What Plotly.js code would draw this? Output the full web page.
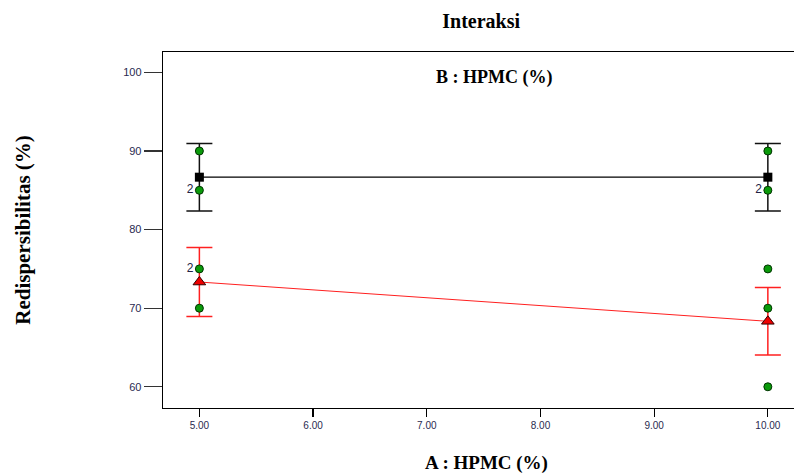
<!DOCTYPE html>
<html>
<head>
<meta charset="utf-8">
<script src="https://cdn.plot.ly/plotly-3.0.1.min.js"></script>
<style>html,body{margin:0;padding:0;background:#fff;overflow:hidden;}#chart{width:794px;height:473px;}</style>
</head>
<body>
<div id="chart"></div>
<script>
// Factor levels (A : HPMC %)
var xLevels = [5, 10];
// Predicted means and error bar half-widths
var highMean = [86.67, 86.67];
var highErr = [4.3, 4.3];
var lowMean = [73.33, 68.33];
var lowErr = [4.4, 4.3];
// Observed design points
var obsX = [5, 5, 5, 5, 10, 10, 10, 10, 10];
var obsY = [90, 85, 75, 70, 90, 85, 75, 70, 60];
var obsLabel = ['', '2', '2', '', '', '2', '', '', ''];
// Ticks
var xTicks = [5, 6, 7, 8, 9, 10];
var xTickText = ['5.00', '6.00', '7.00', '8.00', '9.00', '10.00'];
var yTicks = [60, 70, 80, 90, 100];

var serif = 'Liberation Serif, Times New Roman, serif';
var sans = 'Liberation Sans, Arial, sans-serif';

var traces = [
  {
    x: xLevels, y: lowMean, type: 'scatter', mode: 'lines+markers',
    line: {color: '#ff2020', width: 1},
    marker: {symbol: 'triangle-up', size: 11, color: '#ee0000', line: {color: '#330000', width: 1}},
    error_y: {type: 'data', array: lowErr, visible: true, color: '#ff2020', thickness: 1.5, width: 13},
    hoverinfo: 'skip', showlegend: false
  },
  {
    x: xLevels, y: highMean, type: 'scatter', mode: 'lines+markers',
    line: {color: '#000000', width: 1.3},
    marker: {symbol: 'square', size: 9, color: '#000000'},
    error_y: {type: 'data', array: highErr, visible: true, color: '#111111', thickness: 1.5, width: 13},
    hoverinfo: 'skip', showlegend: false
  },
  {
    x: obsX, y: obsY, type: 'scatter', mode: 'markers+text',
    text: obsLabel, textposition: 'middle left',
    textfont: {family: sans, size: 12, color: '#222244'},
    marker: {symbol: 'circle', size: 8, color: '#0a9a0a', line: {color: '#003300', width: 1}},
    hoverinfo: 'skip', showlegend: false
  }
];

var layout = {
  width: 794, height: 473,
  margin: {l: 163, r: 0, t: 52, b: 65},
  paper_bgcolor: '#ffffff', plot_bgcolor: '#ffffff',
  title: {text: '<b>Interaksi</b>', font: {family: serif, size: 20, color: '#000'}, x: 0.606, xanchor: 'center', y: 0.955, yanchor: 'middle'},
  xaxis: {
    range: [4.68, 10.23], tickvals: xTicks, ticktext: xTickText,
    showgrid: false, zeroline: false, showline: true, mirror: true, linecolor: '#000', linewidth: 1.3,
    ticks: 'outside', ticklen: 8, tickcolor: '#000', tickwidth: 1.3,
    tickfont: {family: sans, size: 10, color: '#2a2a50'}
  },
  yaxis: {
    range: [57.3, 102.6], tickvals: yTicks,
    showgrid: false, zeroline: false, showline: true, mirror: false, linecolor: '#000', linewidth: 1.3,
    ticks: 'outside', ticklen: 18, tickcolor: '#333', tickwidth: 1.3,
    tickfont: {family: sans, size: 11, color: '#2a2a50'},
    title: {text: '<b>Redispersibilitas (%)</b>', font: {family: serif, size: 21, color: '#000'}, standoff: 86}
  },
  annotations: [
    {text: '<b>B : HPMC (%)</b>', xref: 'paper', yref: 'paper', x: 0.525, y: 0.929, xanchor: 'center', yanchor: 'middle', showarrow: false,
     font: {family: serif, size: 18, color: '#000'}},
    {text: '<b>A : HPMC (%)</b>', xref: 'paper', yref: 'paper', x: 0.513, y: -0.154, xanchor: 'center', yanchor: 'middle', showarrow: false,
     font: {family: serif, size: 19, color: '#000'}}
  ]
};

Plotly.newPlot('chart', traces, layout, {displayModeBar: false, staticPlot: true});
</script>
</body>
</html>
